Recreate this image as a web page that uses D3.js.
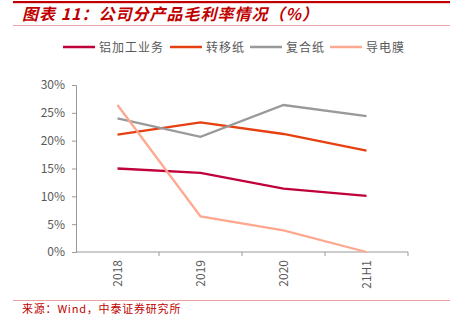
<!DOCTYPE html>
<html>
<head>
<meta charset="utf-8">
<script src="https://cdn.jsdelivr.net/npm/d3@7"></script>
<style>
  html, body { margin: 0; padding: 0; background: #fff; }
  svg { display: block; }
  text { font-family: "Noto Sans CJK SC", "Liberation Sans", Arial, sans-serif; }
</style>
</head>
<body>
<svg id="chart" width="457" height="323"></svg>
<script>
// Gross margin by product line
const categories = ["2018", "2019", "2020", "21H1"];
const seriesNames = ["铝加工业务", "转移纸", "复合纸", "导电膜"];
const aluminium = [15.0, 14.2, 11.4, 10.1];
const transferPaper = [21.1, 23.3, 21.2, 18.2];
const compositePaper = [24.0, 20.7, 26.4, 24.4];
const conductiveFilm = [26.4, 6.4, 3.9, 0.0];
const yTicks = [0, 5, 10, 15, 20, 25, 30];
const colors = ["#C0003A", "#E64010", "#999999", "#FFA890"];

const series = [aluminium, transferPaper, compositePaper, conductiveFilm]
  .map((values, i) => ({ name: seriesNames[i], values, color: colors[i] }));

const svg = d3.select("#chart");
const red = "#C00000";

// Header rules and title
svg.append("rect").attr("x", 13).attr("y", 1).attr("width", 437).attr("height", 2.2).attr("fill", red);
svg.append("rect").attr("x", 13).attr("y", 25).attr("width", 437).attr("height", 1).attr("fill", "#EBA8A8");
svg.append("text")
  .attr("x", 22).attr("y", 20)
  .attr("fill", red)
  .attr("font-size", 16)
  .attr("font-weight", "bold")
  .attr("font-style", "italic")
  .attr("letter-spacing", 1)
  .text("图表 11：公司分产品毛利率情况（%）");

// Plot scales
const x = d3.scaleBand().domain(categories).range([76, 408]);
const y = d3.scaleLinear().domain([0, 30]).range([252, 85]);

// Y axis
const yAxis = svg.append("g")
  .attr("transform", "translate(76,0)")
  .call(d3.axisLeft(y).tickValues(yTicks).tickSize(4).tickPadding(7).tickFormat(d => d + "%"));
yAxis.select(".domain").attr("stroke", "#999");
yAxis.selectAll(".tick line").attr("stroke", "#999");
yAxis.selectAll(".tick text")
  .attr("fill", "#595959").attr("font-size", 12)
  .attr("font-family", "Liberation Sans, Arial, sans-serif");

// X axis with ticks on band boundaries
const xAxis = svg.append("g").attr("transform", "translate(0,252)");
xAxis.append("line")
  .attr("x1", x.range()[0]).attr("x2", x.range()[1])
  .attr("stroke", "#999");
const boundaries = categories.map(c => x(c) + x.bandwidth());
xAxis.selectAll("line.tk").data(boundaries).join("line")
  .attr("class", "tk")
  .attr("x1", d => d).attr("x2", d => d)
  .attr("y1", 0).attr("y2", 4)
  .attr("stroke", "#999");
xAxis.selectAll("text").data(categories).join("text")
  .attr("transform", d => `translate(${x(d) + x.bandwidth() / 2 + 4},8) rotate(-90)`)
  .attr("text-anchor", "end")
  .attr("fill", "#595959")
  .attr("font-size", 12)
  .attr("font-family", "Liberation Sans, Arial, sans-serif")
  .text(d => d);

// Lines
const line = d3.line()
  .x((d, i) => x(categories[i]) + x.bandwidth() / 2)
  .y(d => y(d));
svg.append("g").selectAll("path").data(series).join("path")
  .attr("d", d => line(d.values))
  .attr("fill", "none")
  .attr("stroke", d => d.color)
  .attr("stroke-width", 2.3);

// Legend
const legendX = [63, 170, 250, 330];
const legend = svg.append("g").selectAll("g").data(series).join("g")
  .attr("transform", (d, i) => `translate(${legendX[i]},47)`);
legend.append("line")
  .attr("x1", 0).attr("x2", 32)
  .attr("stroke", d => d.color).attr("stroke-width", 2.5);
legend.append("text")
  .attr("x", 36).attr("y", 4.5)
  .attr("fill", "#595959").attr("font-size", 12)
  .attr("letter-spacing", 1)
  .text(d => d.name);

// Footer
svg.append("rect").attr("x", 13).attr("y", 300).attr("width", 437).attr("height", 1).attr("fill", "#EBA0A0");
svg.append("text")
  .attr("x", 22).attr("y", 313)
  .attr("fill", red)
  .attr("font-size", 11)
  .attr("letter-spacing", 0.8)
  .text("来源：Wind，中泰证券研究所");
</script>
</body>
</html>
